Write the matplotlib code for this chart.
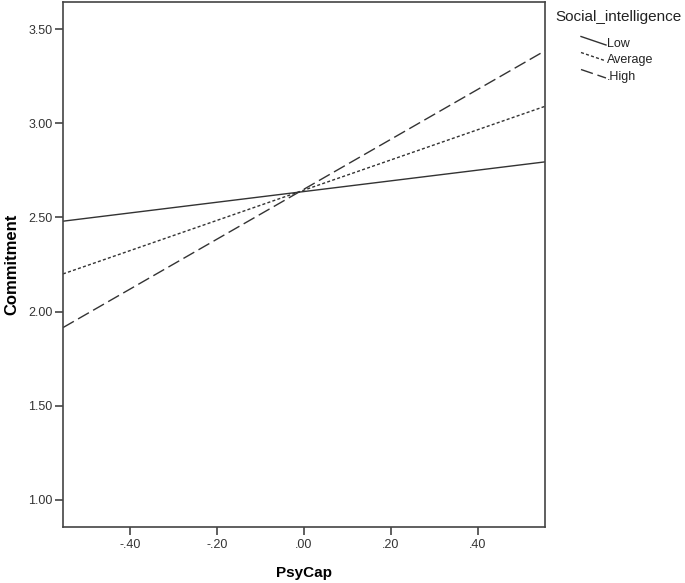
import matplotlib
matplotlib.use("Agg")
import matplotlib.pyplot as plt
from matplotlib.lines import Line2D

plt.rcParams['font.family'] = ['Liberation Sans', 'DejaVu Sans']

# Data
psycap = [-0.555, 0.555]
groups = ["Low", "Average", ".High"]
low = [2.48, 2.795]
average = [2.20, 3.09]
high = [1.915, 3.385]
xticks = [-0.40, -0.20, 0.00, 0.20, 0.40]
xticklabels = ["-.40", "-.20", ".00", ".20", ".40"]
yticks = [1.00, 1.50, 2.00, 2.50, 3.00, 3.50]
yticklabels = ["1.00", "1.50", "2.00", "2.50", "3.00", "3.50"]

W, H = 685, 583
fig = plt.figure(figsize=(W / 100, H / 100), dpi=100)
ax_l, ax_r, ax_t, ax_b = 63, 545, 2, 527
ax = fig.add_axes([ax_l / W, 1 - ax_b / H, (ax_r - ax_l) / W, (ax_b - ax_t) / H])

col = "#333333"
styles = {
    "Low": dict(linestyle="-"),
    "Average": dict(linestyle=(0, (2.2, 1.6))),
    ".High": dict(linestyle=(0, (9, 3.5))),
}
series = [low, average, high]
for name, vals in zip(groups, series):
    ax.plot(psycap, vals, color=col, linewidth=1.0, **styles[name])

ax.set_xlim(-0.555, 0.555)
ax.set_ylim(0.856, 3.644)
ax.set_xticks(xticks)
ax.set_xticklabels(xticklabels)
ax.set_yticks(yticks)
ax.set_yticklabels(yticklabels)
for s in ax.spines.values():
    s.set_color("#444444")
    s.set_linewidth(1.2)
ax.tick_params(axis="both", direction="out", length=6, width=1.2, color="#444444",
               labelsize=9, labelcolor="#333333")
ax.tick_params(axis="x", pad=3)
ax.tick_params(axis="y", pad=1.5)

ax.set_xlabel("PsyCap", fontsize=11, fontweight="bold", va="center")
ax.xaxis.set_label_coords(0.5, -(573 - ax_b) / (ax_b - ax_t))
ax.set_ylabel("Commitment", fontsize=12, fontweight="bold", va="center")
ax.yaxis.set_label_coords(-(ax_l - 12) / (ax_r - ax_l), 0.5)

# Legend (manual, slanted samples as in SPSS)
def fx(px):
    return px / W

def fy(py):
    return 1 - py / H

fig.text(fx(555), fy(17.5), "Social_intelligence", fontsize=11, color="#222222",
         va="center", ha="left")
ys = [44, 60, 77]
for name, y in zip(groups, ys):
    ln = Line2D([fx(581), fx(606)], [fy(y - 7.5), fy(y + 1)], transform=fig.transFigure,
                color=col, linewidth=1.0, **styles[name])
    fig.add_artist(ln)
    fig.text(fx(607), fy(y), name, fontsize=9, color="#222222", va="center", ha="left")

fig.savefig("out.png", dpi=100)
